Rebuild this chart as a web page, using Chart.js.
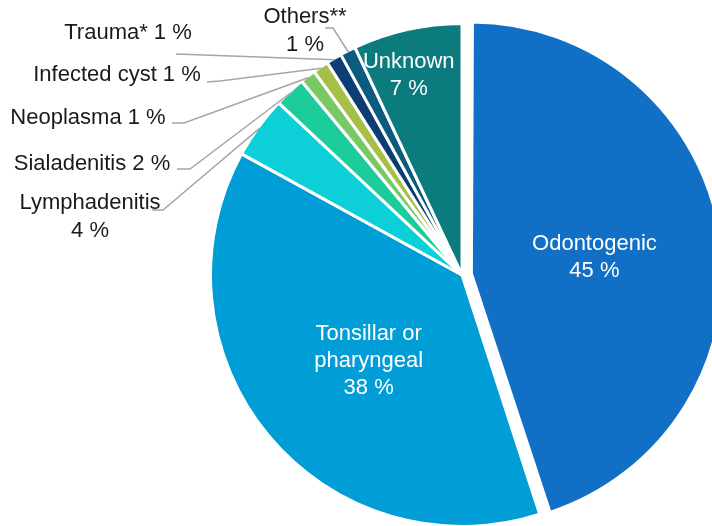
<!DOCTYPE html>
<html>
<head>
<meta charset="utf-8">
<script src="https://cdn.jsdelivr.net/npm/chart.js@4"></script>
<style>
  html, body { margin: 0; padding: 0; background: #ffffff; }
  canvas { display: block; }
</style>
</head>
<body>
<canvas id="chart" width="712" height="526"></canvas>
<script>
// Origin of the infection, share of cases (%), clockwise from 12 o'clock
const categories = ['Odontogenic', 'Tonsillar or pharyngeal', 'Lymphadenitis', 'Sialadenitis',
                    'Neoplasma', 'Infected cyst', 'Trauma*', 'Others**', 'Unknown'];
const shares = [45, 38, 4, 2, 1, 1, 1, 1, 7];
const sliceColors = ['#1170c5', '#009dd6', '#0ccfd7', '#1ccd9b', '#7ac863',
                     '#a6bf47', '#0d3e73', '#0a5b7e', '#0c7b7d'];

const FONT_FAMILY = '"Liberation Sans", Arial, Helvetica, sans-serif';
const FONT = '22px ' + FONT_FAMILY;
const PULL_OUT = 38; // Chart.js arc offset for the pulled-out slice

// Label placement: inside labels sit on the slice bisector at a fraction of the radius,
// outside labels are anchored in the left margin and joined to the slice by a leader line.
const labelLayout = [
  { inside: true, frac: 0.47, dx: 7, dy: 2, wrap: (n) => [n] },
  { inside: true, frac: 0.50, dx: 3, dy: 6, wrap: () => ['Tonsillar or', 'pharyngeal'] },
  { x: 90,  y: 203, wrap: (n) => [n], leader: [[152, 210], [163, 210]] },
  { x: 92,  y: 164, wrap: null, leader: [[177, 169], [190, 169]] },
  { x: 88,  y: 118, wrap: null, leader: [[172, 123], [184, 123]] },
  { x: 117, y: 75,  wrap: null, leader: [[207, 82], [220, 81]] },
  { x: 128, y: 33,  wrap: null, leader: [[176, 54]] },
  { x: 305, y: 17,  wrap: (n) => [n], leader: [[325, 28], [333, 28]] },
  { inside: true, frac: 0.83, dx: -8, dy: 3, wrap: (n) => [n] }
];

function labelLines(i) {
  const L = labelLayout[i];
  const valueText = shares[i] + ' %';
  if (L.wrap) return [...L.wrap(categories[i]), valueText];
  return [categories[i] + ' ' + valueText];
}

// Chart.js grows a pulled-out arc's radius; keep it equal to the rest of the pie
const keepRadius = {
  id: 'keepRadius',
  beforeDatasetsDraw(chart) {
    const meta = chart.getDatasetMeta(0);
    const base = meta.controller.outerRadius;
    meta.data.forEach((arc) => {
      const off = arc.options.offset || 0;
      if (off) {
        const circ = arc.endAngle - arc.startAngle;
        arc.outerRadius = base - (off / 4) * (1 - Math.sin(Math.min(Math.PI, circ)));
      }
    });
  }
};

const sliceLabels = {
  id: 'sliceLabels',
  afterDatasetsDraw(chart) {
    const ctx = chart.ctx;
    const meta = chart.getDatasetMeta(0);
    const base = meta.controller.outerRadius;
    ctx.save();
    ctx.font = FONT;
    ctx.textAlign = 'center';
    ctx.textBaseline = 'middle';
    meta.data.forEach((arc, i) => {
      const L = labelLayout[i];
      const mid = (arc.startAngle + arc.endAngle) / 2;
      const shift = (arc.options.offset || 0) / 4;
      const cx = arc.x + Math.cos(mid) * shift;
      const cy = arc.y + Math.sin(mid) * shift;
      const R = base - 1.5;
      const lines = labelLines(i);
      if (L.inside) {
        const lh = 27;
        const lx = cx + Math.cos(mid) * R * L.frac + L.dx;
        const ly = cy + Math.sin(mid) * R * L.frac + L.dy;
        ctx.fillStyle = '#ffffff';
        lines.forEach((t, k) => {
          ctx.fillText(t, lx, ly + (k - (lines.length - 1) / 2) * lh);
        });
      } else {
        // leader line ending on the slice's outer edge at its bisector
        const ex = cx + Math.cos(mid) * R;
        const ey = cy + Math.sin(mid) * R;
        ctx.strokeStyle = '#a6a6a6';
        ctx.lineWidth = 1.5;
        ctx.beginPath();
        ctx.moveTo(L.leader[0][0], L.leader[0][1]);
        for (let k = 1; k < L.leader.length; k++) ctx.lineTo(L.leader[k][0], L.leader[k][1]);
        ctx.lineTo(ex, ey);
        ctx.stroke();
        ctx.fillStyle = '#1a1a1a';
        const lh = 28;
        lines.forEach((t, k) => {
          ctx.fillText(t, L.x, L.y + k * lh);
        });
      }
    });
    ctx.restore();
  }
};

new Chart(document.getElementById('chart'), {
  type: 'pie',
  data: {
    labels: categories,
    datasets: [{
      data: shares,
      backgroundColor: sliceColors,
      borderColor: '#ffffff',
      borderWidth: 3,
      offset: shares.map((_, i) => (i === 0 ? PULL_OUT : 0)),
      clip: false
    }]
  },
  options: {
    responsive: false,
    animation: false,
    events: [],
    radius: 251.5,
    layout: { padding: { left: 212, right: 0, top: 24, bottom: 0 } },
    plugins: {
      legend: { display: false },
      tooltip: { enabled: false }
    }
  },
  plugins: [keepRadius, sliceLabels]
});
</script>
</body>
</html>
